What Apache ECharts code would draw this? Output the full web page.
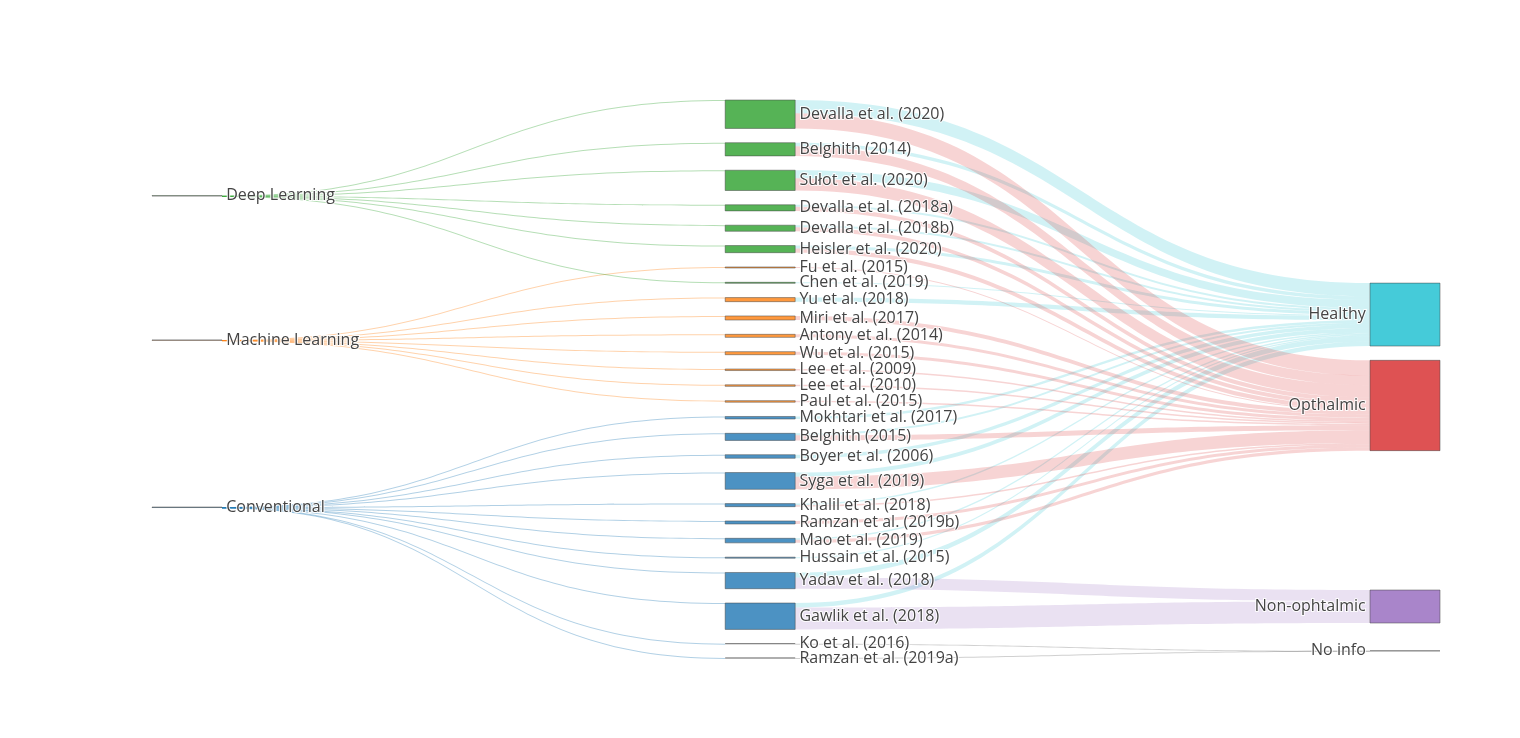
<!DOCTYPE html>
<html lang="en">
<head>
    <meta charset="UTF-8">
    <title>Segmentation studies sankey</title>
    <script src="https://cdn.jsdelivr.net/npm/echarts@6/dist/echarts.min.js"></script>
    <style>
        body { margin: 0; background: #fff; }
        #chart { width: 1520px; height: 738px; }
    </style>
</head>
<body>
<div id="chart"></div>
<script>
// methods (left column)
const methods = ['Deep Learning', 'Machine Learning', 'Conventional'];
const methodColors = ['#2ca02c', '#ff7f0e', '#1f77b4'];

// studies (middle column) and the method each one uses
const studies = [
    'Devalla et al. (2020)', 'Belghith (2014)', 'Sułot et al. (2020)', 'Devalla et al. (2018a)',
    'Devalla et al. (2018b)', 'Heisler et al. (2020)', 'Fu et al. (2015)', 'Chen et al. (2019)',
    'Yu et al. (2018)', 'Miri et al. (2017)', 'Antony et al. (2014)', 'Wu et al. (2015)',
    'Lee et al. (2009)', 'Lee et al. (2010)', 'Paul et al. (2015)', 'Mokhtari et al. (2017)',
    'Belghith (2015)', 'Boyer et al. (2006)', 'Syga et al. (2019)', 'Khalil et al. (2018)',
    'Ramzan et al. (2019b)', 'Mao et al. (2019)', 'Hussain et al. (2015)', 'Yadav et al. (2018)',
    'Gawlik et al. (2018)', 'Ko et al. (2016)', 'Ramzan et al. (2019a)'
];
const studyMethod = [0, 0, 0, 0, 0, 0, 1, 0, 1, 1, 1, 1, 1, 1, 1, 2, 2, 2, 2, 2, 2, 2, 2, 2, 2, 2, 2];

// outcomes (right column)
const outcomes = ['Healthy', 'Opthalmic', 'Non-ophtalmic', 'No info'];
const outcomeColors = ['#17becf', '#d62728', '#9467bd', '#7f7f7f'];

// flow from each study to each outcome (estimated); null = no link
const toHealthy    = [13, 3.5, 8, 2, 2, 3, null, 1, 4, null, null, null, null, null, null, 2.5, 2, 3.5, 4, 1.5, null, 1.5, 1, 5, 4.5, null, null];
const toOpthalmic  = [15, 9.5, 12, 4, 4, 4, 1, null, null, 4, 3, 3, 1.5, 1.5, 1.5, null, 5, null, 12.5, 1.5, 3, 3, null, null, null, null, null];
const toNonOph     = [null, null, null, null, null, null, null, null, null, null, null, null, null, null, null, null, null, null, null, null, null, null, null, 11, 21.5, null, null];
const toNoInfo     = [null, null, null, null, null, null, null, null, null, null, null, null, null, null, null, null, null, null, null, null, null, null, null, null, null, 0, 0];

// near-zero flow used for method -> study links (0 when the study has no data)
const methodFlow = 0.05;

const NODE_GAP = 14.3;
const TOP = 100, BOTTOM = 80;

function rgba(hex, a) {
    const n = parseInt(hex.slice(1), 16);
    return `rgba(${(n >> 16) & 255},${(n >> 8) & 255},${n & 255},${a})`;
}

const flows = [toHealthy, toOpthalmic, toNonOph, toNoInfo];
const studyTotal = studies.map((_, i) => flows.reduce((s, arr) => s + (arr[i] || 0), 0));

function buildNodes(outerY) {
    const nodes = [];
    methods.forEach((name, i) => nodes.push({
        name, depth: 0,
        localY: outerY[name],
        itemStyle: { color: rgba(methodColors[i], 0.8) }
    }));
    studies.forEach((name, i) => nodes.push({
        name, depth: 8,
        itemStyle: { color: rgba(methodColors[studyMethod[i]], 0.8) }
    }));
    outcomes.forEach((name, i) => nodes.push({
        name, depth: 17,
        localY: outerY[name],
        itemStyle: { color: rgba(outcomeColors[i], 0.8) },
        label: { position: 'left' }
    }));
    return nodes;
}

const links = [];
studies.forEach((name, i) => {
    links.push({
        source: methods[studyMethod[i]], target: name,
        value: studyTotal[i] > 0 ? methodFlow : 0,
        lineStyle: { color: rgba(methodColors[studyMethod[i]], 0.35) }
    });
});
flows.forEach((arr, k) => {
    arr.forEach((v, i) => {
        if (v == null) return;
        links.push({
            source: studies[i], target: outcomes[k], value: v,
            lineStyle: { color: k === 3 ? 'rgba(68,68,68,0.25)' : rgba(outcomeColors[k], 0.2) }
        });
    });
});

function buildOption(outerY) {
    return {
        animation: false,
        series: [{
            type: 'sankey',
            left: 152,
            right: 80,
            top: TOP,
            bottom: BOTTOM,
            nodeWidth: 70,
            nodeGap: NODE_GAP,
            nodeAlign: 'left',
            layoutIterations: 0,   // keep the studies in the given order
            draggable: false,
            emphasis: { disabled: true },
            itemStyle: { borderColor: '#444', borderWidth: 0.5 },
            lineStyle: { curveness: 0.5, opacity: 1 },
            label: {
                position: 'right',
                distance: 4,
                color: '#444',
                fontFamily: 'Open Sans',
                fontSize: 16,
                textBorderColor: 'rgba(255,255,255,0.9)',
                textBorderWidth: 2
            },
            data: buildNodes(outerY),
            links: links
        }]
    };
}

const chart = echarts.init(document.getElementById('chart'));
chart.setOption(buildOption({}));

// move the outer columns to where their links run straightest on average,
// using the studies' layout that ECharts computed
const graph = chart.getModel().getSeriesByIndex(0).getGraph();
const areaH = chart.getHeight() - TOP - BOTTOM;
const outerY = {};

function wantedTop(idx, edges, otherEnd, sign) {
    let y = 0, w = 0, plain = 0;
    edges.forEach(e => {
        const l = e.getLayout();
        const pos = otherEnd(e).getLayout().y + sign * (l.ty - l.sy);
        y += pos * e.getValue();
        w += e.getValue();
        plain += pos;
    });
    return { idx, y: w > 0 ? y / w : plain / edges.length };
}

function settleColumn(names, wanted) {
    let prevBottom = -Infinity;
    const tops = wanted.map(item => {
        const dy = graph.getNodeByIndex(item.idx).getLayout().dy;
        const top = Math.max(item.y, prevBottom + NODE_GAP);
        prevBottom = top + dy;
        return top;
    });
    const over = Math.max(0, prevBottom - areaH);
    names.forEach((name, i) => { outerY[name] = (tops[i] - over) / areaH; });
}

settleColumn(methods, methods.map((_, i) =>
    wantedTop(i, graph.getNodeByIndex(i).outEdges, e => e.node2, 1)));

const firstOutcome = methods.length + studies.length;
settleColumn(outcomes, outcomes.map((_, i) =>
    wantedTop(firstOutcome + i, graph.getNodeByIndex(firstOutcome + i).inEdges, e => e.node1, -1)));

chart.setOption(buildOption(outerY));
</script>
</body>
</html>
